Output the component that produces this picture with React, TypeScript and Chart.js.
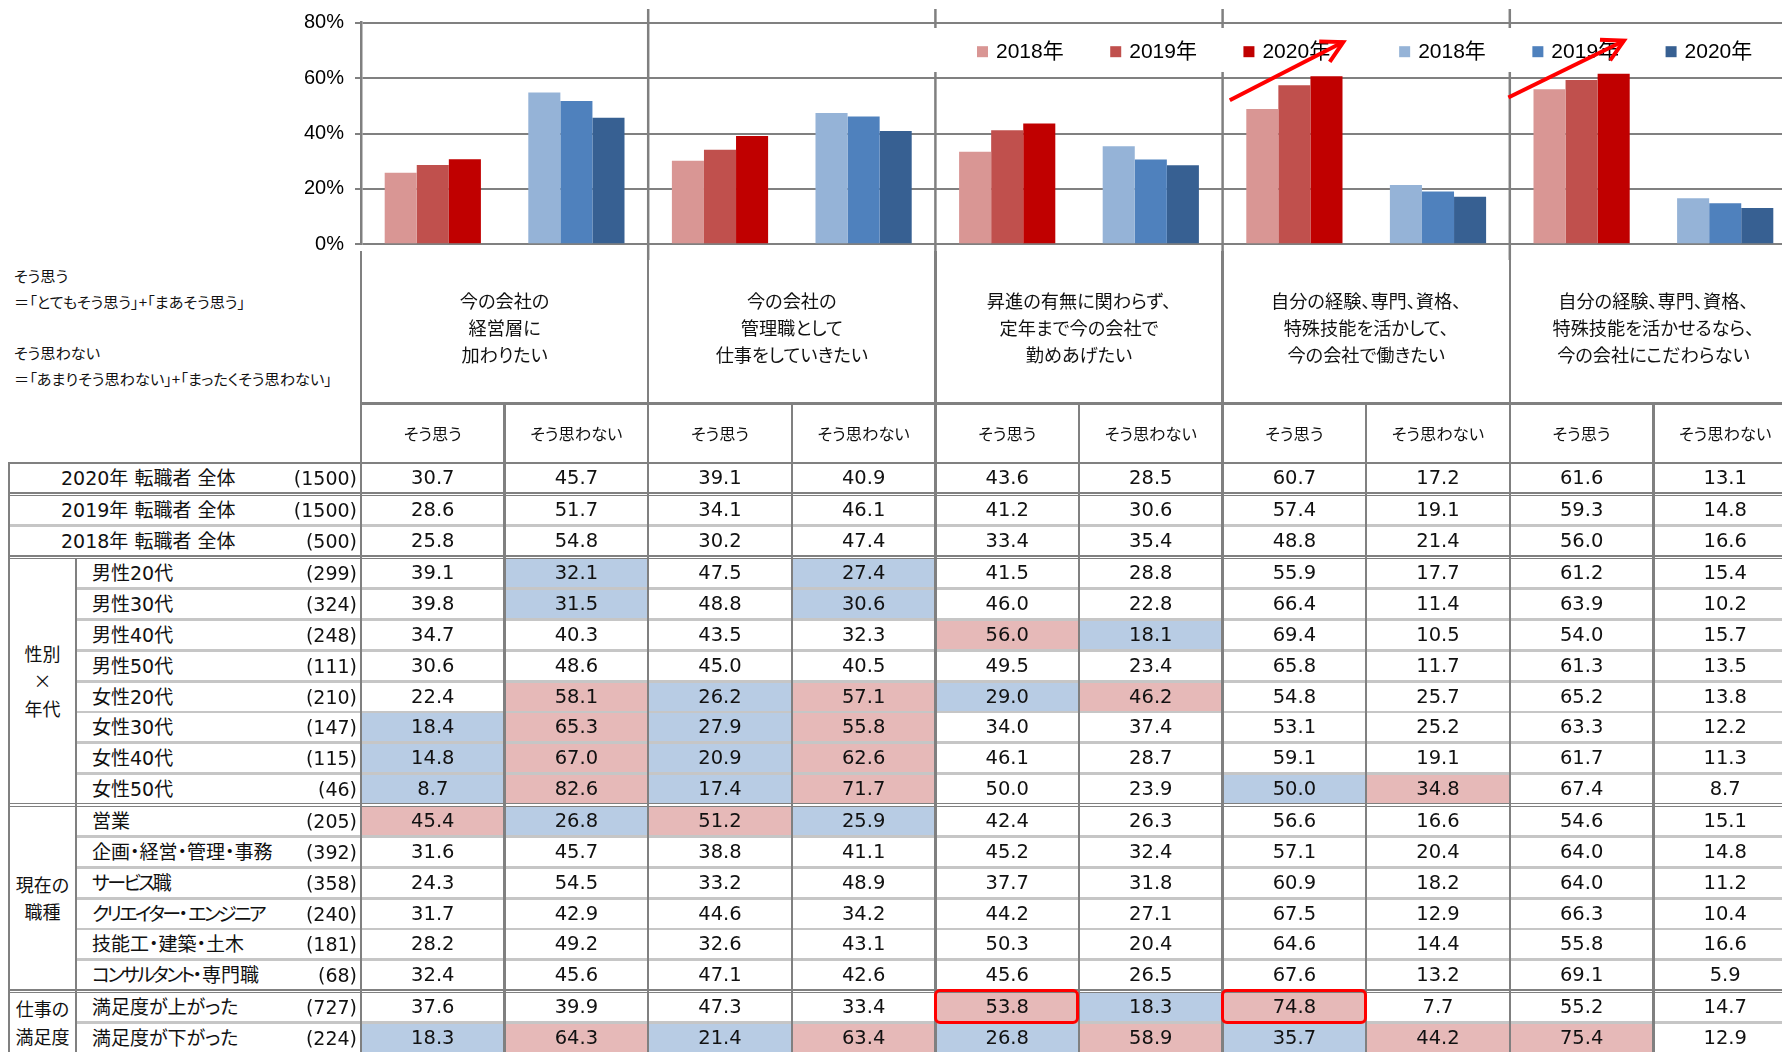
import React, { useEffect, useRef } from "react";
import { Chart, registerables } from "chart.js";

Chart.register(...registerables);

// ---------------- data ----------------
const questions: string[][] = [
  ["今の会社の", "経営層に", "加わりたい"],
  ["今の会社の", "管理職として", "仕事をしていきたい"],
  ["昇進の有無に関わらず、", "定年まで今の会社で", "勤めあげたい"],
  ["自分の経験、専門、資格、", "特殊技能を活かして、", "今の会社で働きたい"],
  ["自分の経験、専門、資格、", "特殊技能を活かせるなら、", "今の会社にこだわらない"],
];
const answerTypes = ["そう思う", "そう思わない"];
const legendYears = ["2018年", "2019年", "2020年"];
const yTickValues = [0, 20, 40, 60, 80];

const noteLines = [
  "そう思う",
  "＝「とてもそう思う」+「まあそう思う」",
  "",
  "そう思わない",
  "＝「あまりそう思わない」+「まったくそう思わない」",
];

// overall rows per year (そう思う / そう思わない for each question)
const values2020 = [30.7, 45.7, 39.1, 40.9, 43.6, 28.5, 60.7, 17.2, 61.6, 13.1];
const values2019 = [28.6, 51.7, 34.1, 46.1, 41.2, 30.6, 57.4, 19.1, 59.3, 14.8];
const values2018 = [25.8, 54.8, 30.2, 47.4, 33.4, 35.4, 48.8, 21.4, 56.0, 16.6];

const rowLabels = [
  "2020年 転職者 全体", "2019年 転職者 全体", "2018年 転職者 全体",
  "男性20代", "男性30代", "男性40代", "男性50代",
  "女性20代", "女性30代", "女性40代", "女性50代",
  "営業", "企画・経営・管理・事務", "サービス職", "クリエイター・エンジニア",
  "技能工・建築・土木", "コンサルタント・専門職",
  "満足度が上がった", "満足度が下がった",
];
const rowBases = [1500, 1500, 500, 299, 324, 248, 111, 210, 147, 115, 46, 205, 392, 358, 240, 181, 68, 727, 224];
const rowSection = [0, 1, 1, 2, 2, 2, 2, 2, 2, 2, 2, 3, 3, 3, 3, 3, 3, 4, 4];
const sectionLabels = ["", "", "性別\n×\n年代", "現在の\n職種", "仕事の\n満足度"];

const tableValues: number[][] = [
  values2020,
  values2019,
  values2018,
  [39.1, 32.1, 47.5, 27.4, 41.5, 28.8, 55.9, 17.7, 61.2, 15.4],
  [39.8, 31.5, 48.8, 30.6, 46.0, 22.8, 66.4, 11.4, 63.9, 10.2],
  [34.7, 40.3, 43.5, 32.3, 56.0, 18.1, 69.4, 10.5, 54.0, 15.7],
  [30.6, 48.6, 45.0, 40.5, 49.5, 23.4, 65.8, 11.7, 61.3, 13.5],
  [22.4, 58.1, 26.2, 57.1, 29.0, 46.2, 54.8, 25.7, 65.2, 13.8],
  [18.4, 65.3, 27.9, 55.8, 34.0, 37.4, 53.1, 25.2, 63.3, 12.2],
  [14.8, 67.0, 20.9, 62.6, 46.1, 28.7, 59.1, 19.1, 61.7, 11.3],
  [8.7, 82.6, 17.4, 71.7, 50.0, 23.9, 50.0, 34.8, 67.4, 8.7],
  [45.4, 26.8, 51.2, 25.9, 42.4, 26.3, 56.6, 16.6, 54.6, 15.1],
  [31.6, 45.7, 38.8, 41.1, 45.2, 32.4, 57.1, 20.4, 64.0, 14.8],
  [24.3, 54.5, 33.2, 48.9, 37.7, 31.8, 60.9, 18.2, 64.0, 11.2],
  [31.7, 42.9, 44.6, 34.2, 44.2, 27.1, 67.5, 12.9, 66.3, 10.4],
  [28.2, 49.2, 32.6, 43.1, 50.3, 20.4, 64.6, 14.4, 55.8, 16.6],
  [32.4, 45.6, 47.1, 42.6, 45.6, 26.5, 67.6, 13.2, 69.1, 5.9],
  [37.6, 39.9, 47.3, 33.4, 53.8, 18.3, 74.8, 7.7, 55.2, 14.7],
  [18.3, 64.3, 21.4, 63.4, 26.8, 58.9, 35.7, 44.2, 75.4, 12.9],
];
// p = notably high (pink), b = notably low (blue)
const tableMarks = [
  "..........", "..........", "..........",
  ".b.b......", ".b.b......", "....pb....", "..........",
  ".pbpbp....", "bpbp......", "bpbp......", "bpbp..bp..",
  "pbpb......", "..........", "..........", "..........", "..........", "..........",
  "....pbp...", "bpbpbpbpp.",
];
const boxedCells = [[17, 4], [17, 6]];
const arrowSpecs = [
  { cat: 6, from: [-0.45, 52], to: [0.34, 73] },
  { cat: 8, from: [-0.51, 53], to: [0.295, 73.5] },
];

// ---------------- style / layout ----------------
const redColors = ["#d99694", "#c0504d", "#c00000"];
const blueColors = ["#95b3d7", "#4f81bd", "#376092"];
const PINK = "#e6b9b8";
const BLUE = "#b8cce4";
const DARK = "#808080";
const LIGHT = "#c6c6c6";
const TEXT = "#111";
const LATIN = '"Liberation Sans", "Noto Sans CJK JP", sans-serif';
const TFONT = '"DejaVu Sans", "Noto Sans CJK JP", sans-serif';
const JFONT = '"Noto Sans CJK JP", sans-serif';

const PAGE_W = 1782;
const PAGE_H = 1052;
const DATA_LEFT = 361;
const COL_W = 143.6;
const NCOL = 10;
const TABLE_RIGHT = DATA_LEFT + COL_W * NCOL;
const CANVAS_W = 1800;
const CANVAS_H = 260;
const PLOT_TOP = 22.7;
const PLOT_BOTTOM = 244.3;
const SEP_TOP = 9;

const HEADER_TOP = 251;
const SUBHEAD_Y = 403.5;
const TABLE_TOP = 463;
const TABLE_LEFT = 9;
const GROUP_X = 76;
const CONTENT_H = 28.0;
const SEP = 2.8;
const DBL = 1.4;
const TABLE_BOTTOM = 1070;

const colX = (c: number) => DATA_LEFT + c * COL_W;

const overlayPlugin = {
  id: "overlay",
  beforeDatasetsDraw(chart: any) {
    const { ctx } = chart;
    const xs = chart.scales.x;
    ctx.save();
    ctx.strokeStyle = DARK;
    ctx.lineWidth = 2.5;
    for (let k = 1; k < questions.length; k++) {
      const px = (xs.getPixelForValue(2 * k - 1) + xs.getPixelForValue(2 * k)) / 2;
      ctx.beginPath();
      ctx.moveTo(px, SEP_TOP);
      ctx.lineTo(px, chart.height);
      ctx.stroke();
    }
    ctx.restore();
  },
  afterDraw(chart: any) {
    const { ctx } = chart;
    const xs = chart.scales.x;
    const ys = chart.scales.y;
    ctx.save();
    // legend
    ctx.fillStyle = "#fff";
    ctx.fillRect(915, 28, chart.width - 915, 44);
    ctx.font = `21px ${LATIN}`;
    ctx.textBaseline = "middle";
    ctx.textAlign = "left";
    let lx = 977;
    const ly = 51.7;
    chart.data.datasets.forEach((ds: any, i: number) => {
      ctx.fillStyle = ds.backgroundColor;
      ctx.fillRect(lx, ly - 5.5, 11, 11);
      ctx.fillStyle = "#000";
      ctx.fillText(ds.label, lx + 19, ly + 1);
      lx += 19 + ctx.measureText(ds.label).width + (i === 2 ? 69 : 46.5);
    });
    // arrows
    ctx.strokeStyle = "#ff0000";
    ctx.lineWidth = 4;
    ctx.lineCap = "butt";
    ctx.lineJoin = "miter";
    arrowSpecs.forEach((a) => {
      const cx = xs.getPixelForValue(a.cat);
      const fx = cx + a.from[0] * COL_W;
      const fy = ys.getPixelForValue(a.from[1]);
      const tx = cx + a.to[0] * COL_W;
      const ty = ys.getPixelForValue(a.to[1]);
      ctx.beginPath();
      ctx.moveTo(fx, fy);
      ctx.lineTo(tx, ty);
      ctx.stroke();
      const th = Math.atan2(ty - fy, tx - fx) + Math.PI;
      const L = 24;
      ctx.beginPath();
      ctx.moveTo(tx + L * Math.cos(th - 0.5), ty + L * Math.sin(th - 0.5));
      ctx.lineTo(tx, ty);
      ctx.lineTo(tx + L * Math.cos(th + 0.5), ty + L * Math.sin(th + 0.5));
      ctx.stroke();
    });
    ctx.restore();
  },
};

function buildChartConfig(): any {
  const labels = Array.from({ length: questions.length * 2 }, (_, i) =>
    `${questions[Math.floor(i / 2)].join("")} ${answerTypes[i % 2]}`
  );
  const yearSeries = [values2018, values2019, values2020];
  const datasets = [
    ...yearSeries.map((vals, k) => ({
      label: legendYears[k],
      data: vals.map((v, i) => (i % 2 === 0 ? v : null)),
      backgroundColor: redColors[k],
    })),
    ...yearSeries.map((vals, k) => ({
      label: legendYears[k],
      data: vals.map((v, i) => (i % 2 === 1 ? v : null)),
      backgroundColor: blueColors[k],
    })),
  ];
  return {
    type: "bar",
    data: { labels, datasets },
    plugins: [overlayPlugin],
    options: {
      animation: false,
      responsive: false,
      maintainAspectRatio: false,
      devicePixelRatio: 1,
      layout: {
        padding: {
          left: 0,
          right: CANVAS_W - TABLE_RIGHT,
          top: PLOT_TOP,
          bottom: CANVAS_H - PLOT_BOTTOM,
        },
      },
      datasets: { bar: { categoryPercentage: 0.67, barPercentage: 1, skipNull: true, borderWidth: 0 } },
      plugins: { legend: { display: false }, tooltip: { enabled: false } },
      scales: {
        x: { display: false, offset: true },
        y: {
          min: yTickValues[0],
          max: yTickValues[yTickValues.length - 1],
          afterFit: (s: any) => {
            s.width = DATA_LEFT;
            s.paddingTop = 0;
            s.paddingBottom = 0;
          },
          ticks: {
            stepSize: yTickValues[1] - yTickValues[0],
            callback: (v: any) => `${v}%`,
            color: "#000",
            font: { family: LATIN, size: 20 },
            padding: 11,
          },
          grid: { color: DARK, lineWidth: 2, tickLength: 6, drawTicks: true },
          border: { display: true, color: DARK, width: 2.5 },
        },
      },
    },
  };
}

// katakana runs are set tighter (narrow katakana of the original font)
function labelRuns(s: string): React.ReactNode[] {
  const parts = s.match(/[\u30a1-\u30fa\u30fc]+|[^\u30a1-\u30fa\u30fc]+/g) || [];
  return parts.map((p, i) =>
    /[\u30a1-\u30fa\u30fc]/.test(p) ? (
      <span key={i} style={{ letterSpacing: -2.6 }}>{p}</span>
    ) : (
      <span key={i}>{p}</span>
    )
  );
}

function buildTable(): React.ReactNode[] {
  const bg: React.ReactNode[] = [];
  const lines: React.ReactNode[] = [];
  const texts: React.ReactNode[] = [];
  let k = 0;
  const rect = (arr: React.ReactNode[], x: number, y: number, w: number, h: number, c: string) =>
    arr.push(<div key={k++} style={{ position: "absolute", left: x, top: y, width: w, height: h, background: c }} />);
  const hLine = (x1: number, x2: number, y: number, t: number, c: string) => rect(lines, x1, y - t / 2, x2 - x1, t, c);
  const vLine = (x: number, y1: number, y2: number, t: number, c: string) => rect(lines, x - t / 2, y1, t, y2 - y1, c);
  const text = (
    content: React.ReactNode, x: number, y: number, w: number, h: number,
    align: string, font: string, size: number, lh: number
  ) =>
    texts.push(
      <div
        key={k++}
        style={{
          position: "absolute", left: x, top: y, width: w, height: h,
          display: "flex", alignItems: "center", justifyContent: align,
          fontFamily: font, fontSize: size, lineHeight: `${lh}px`, color: TEXT,
          whiteSpace: "pre", textAlign: "center", fontFeatureSettings: '"palt"',
        }}
      >
        <span>{content}</span>
      </div>
    );

  // notes
  texts.push(
    <div
      key={k++}
      style={{
        position: "absolute", left: 14, top: 263, fontFamily: JFONT, fontSize: 15.2,
        lineHeight: "25.7px", color: TEXT, whiteSpace: "pre", fontFeatureSettings: '"palt"',
      }}
    >
      {noteLines.join("\n")}
    </div>
  );

  // header
  questions.forEach((q, i) => {
    text(q.join("\n"), colX(2 * i), HEADER_TOP, 2 * COL_W, SUBHEAD_Y - HEADER_TOP, "center", JFONT, 18.2, 26.7);
  });
  for (let c = 0; c < NCOL; c++) {
    text(answerTypes[c % 2], colX(c), SUBHEAD_Y, COL_W, TABLE_TOP - SUBHEAD_Y, "center", JFONT, 16.3, 20);
  }

  // rows
  let y = TABLE_TOP + 1.25;
  const rowTop: number[] = [];
  for (let i = 0; i < rowLabels.length; i++) {
    if (i > 0) {
      if (rowSection[i] !== rowSection[i - 1]) {
        hLine(TABLE_LEFT - 1.25, TABLE_RIGHT, y + DBL / 2, DBL, DARK);
        hLine(TABLE_LEFT - 1.25, TABLE_RIGHT, y + DBL * 2.5, DBL, DARK);
        y += DBL * 3;
      } else {
        const x1 = rowSection[i] >= 2 ? GROUP_X : TABLE_LEFT;
        hLine(x1, TABLE_RIGHT, y + SEP / 2, SEP, LIGHT);
        y += SEP;
      }
    }
    rowTop.push(y);
    const top = y;
    const sec = rowSection[i];
    text(labelRuns(rowLabels[i]), sec >= 2 ? 92 : 61, top, 260, CONTENT_H, "flex-start", TFONT, 19, 20);
    text(`(${rowBases[i]})`, 250, top, 107, CONTENT_H, "flex-end", TFONT, 19, 20);
    tableValues[i].forEach((v, c) => {
      const m = tableMarks[i][c];
      if (m === "p" || m === "b") rect(bg, colX(c) + 1.25, top, COL_W - 2.5, CONTENT_H, m === "p" ? PINK : BLUE);
      text(v.toFixed(1), colX(c), top, COL_W, CONTENT_H, "center", TFONT, 19.5, 20);
    });
    y += CONTENT_H;
  }
  const bottomY = Math.max(y, TABLE_BOTTOM);

  // group labels
  for (let s = 2; s < sectionLabels.length; s++) {
    const idx = rowSection.map((v, i) => (v === s ? i : -1)).filter((i) => i >= 0);
    const t0 = rowTop[idx[0]];
    const t1 = rowTop[idx[idx.length - 1]] + CONTENT_H;
    text(sectionLabels[s], TABLE_LEFT, t0, GROUP_X - TABLE_LEFT, t1 - t0, "center", JFONT, 18, 27.5);
  }

  // grid lines
  const firstGroupTop = rowTop[rowSection.indexOf(2)];
  vLine(TABLE_LEFT, TABLE_TOP - 1.25, bottomY, 2.5, DARK);
  vLine(GROUP_X, firstGroupTop, bottomY, 2.5, DARK);
  vLine(DATA_LEFT, HEADER_TOP, bottomY, 2.5, DARK);
  for (let c = 1; c <= NCOL; c++) {
    vLine(colX(c), c % 2 === 0 ? HEADER_TOP : SUBHEAD_Y, bottomY, 2.5, DARK);
  }
  hLine(DATA_LEFT, TABLE_RIGHT, SUBHEAD_Y, 2.5, DARK);
  hLine(TABLE_LEFT - 1.25, TABLE_RIGHT, TABLE_TOP, 2.5, DARK);

  // highlighted boxes
  const boxes: React.ReactNode[] = boxedCells.map(([r, c]) => (
    <div
      key={k++}
      style={{
        position: "absolute",
        left: colX(c) - 1.5,
        top: rowTop[r] - 4,
        width: COL_W + 2,
        height: CONTENT_H + 6.5,
        border: "3px solid #ff0000",
        borderRadius: 6,
        boxSizing: "border-box",
      }}
    />
  ));

  return [...bg, ...lines, ...texts, ...boxes];
}

export default function App() {
  const canvasRef = useRef<HTMLCanvasElement>(null);
  useEffect(() => {
    const chart = new Chart(canvasRef.current as HTMLCanvasElement, buildChartConfig());
    return () => chart.destroy();
  }, []);
  return (
    <div
      lang="ja"
      style={{
        position: "fixed", left: 0, top: 0, width: PAGE_W, height: PAGE_H,
        overflow: "hidden", background: "#fff",
      }}
    >
      <canvas
        ref={canvasRef}
        width={CANVAS_W}
        height={CANVAS_H}
        style={{ position: "absolute", left: 0, top: 0, width: CANVAS_W, height: CANVAS_H }}
      />
      {buildTable()}
    </div>
  );
}
